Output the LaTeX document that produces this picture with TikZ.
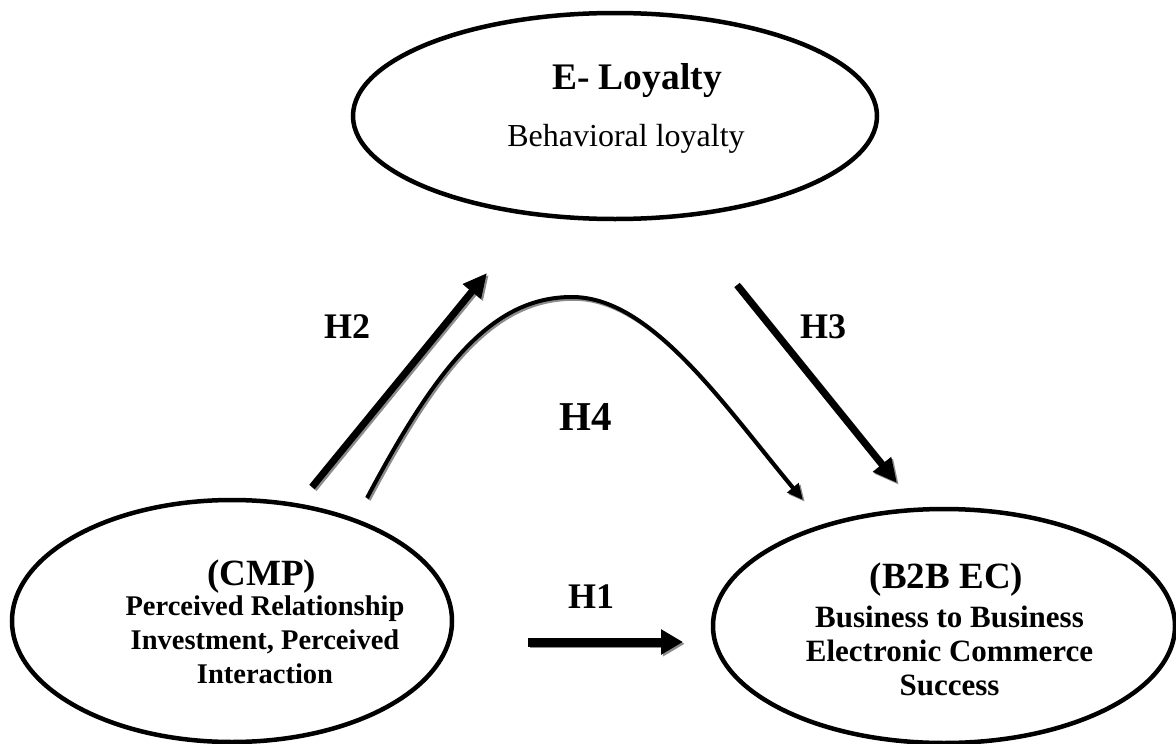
\documentclass[tikz,border=0pt]{standalone}
\usepackage{fontspec}
\setmainfont{Liberation Serif}
\usetikzlibrary{shapes.geometric,arrows.meta}
\begin{document}
\begin{tikzpicture}[x=1pt,y=-1pt,
  construct/.style={draw=black,line width=4.5pt,ellipse,inner sep=0pt},
  arr/.style={line width=#1,draw=black},
  shade/.style={line width=#1,draw=black!45,transform canvas={shift={(1.8pt,-1.8pt)}}},
  lbl/.style={font=\bfseries\fontsize{36}{40}\selectfont,inner sep=0pt},
  head/.style={inner sep=0pt,anchor=base,font=\bfseries\fontsize{37}{40}\selectfont},
  body/.style={align=center,inner sep=0pt,anchor=base}
]
\useasboundingbox (0,0) rectangle (1176,744);

% constructs
\node[construct,minimum width=524pt,minimum height=206pt] (loy) at (615,116) {};
\node[construct,minimum width=440pt,minimum height=242pt] (cmp) at (232,621) {};
\node[construct,minimum width=462pt,minimum height=234pt] (b2b) at (944,626) {};

% texts inside the constructs
\node[inner sep=0pt,anchor=base,font=\bfseries\fontsize{37.5}{42}\selectfont] (loyT) at (637,89) {E- Loyalty};
\node[inner sep=0pt,anchor=base,font=\fontsize{32}{36}\selectfont] (loyS) at (626,146) {Behavioral loyalty};

\node[head] (cmpT) at (261.5,585) {(CMP)};
\node[body,font=\bfseries\fontsize{28.5}{34}\selectfont] (cmpS) at (265,683) {Perceived Relationship\\Investment, Perceived\\Interaction};

\node[head] (b2bT) at (946.5,588) {(B2B EC)};
\node[body,font=\bfseries\fontsize{31}{34}\selectfont] (b2bS) at (949.5,695) {Business to Business\\Electronic Commerce\\Success};

% arrow end points
\coordinate (h2s) at (312,487);
\coordinate (h2e) at (487,273);
\coordinate (h3s) at (737,285);
\coordinate (h3e) at (897,483);
\coordinate (h1s) at (528,642);
\coordinate (h1e) at (683,642);
\coordinate (h4s) at (367,498);
\coordinate (h4p) at (572,297);
\coordinate (h4e) at (803,500);

% soft grey shadows of the arrows
\draw[shade=7pt,-{Triangle[length=24pt,width=22pt]}] (h2s) -- (h2e);
\draw[shade=7pt,-{Triangle[length=24pt,width=22pt]}] (h3s) -- (h3e);
\draw[shade=9pt,-{Triangle[length=22pt,width=24pt]}] (h1s) -- (h1e);
\draw[shade=4pt,-{Triangle[length=16pt,width=14pt]}] (h4s) .. controls (440,360) and (495,297) .. (h4p)
   .. controls (650,297) and (720,400) .. (h4e);

% arrows
\draw[arr=7pt,-{Triangle[length=24pt,width=22pt]}] (h2s) -- (h2e);
\draw[arr=7pt,-{Triangle[length=24pt,width=22pt]}] (h3s) -- (h3e);
\draw[arr=9pt,-{Triangle[length=22pt,width=24pt]}] (h1s) -- (h1e);
\draw[arr=4pt,-{Triangle[length=16pt,width=14pt]}] (h4s) .. controls (440,360) and (495,297) .. (h4p)
   .. controls (650,297) and (720,400) .. (h4e);

% hypothesis labels
\node[lbl] (H2) at (347,327) {H2};
\node[lbl] (H3) at (823,327) {H3};
\node[lbl] (H1) at (591,597) {H1};
\node[lbl,font=\bfseries\fontsize{41}{46}\selectfont] (H4) at (586,417) {H4};
\end{tikzpicture}
\end{document}
